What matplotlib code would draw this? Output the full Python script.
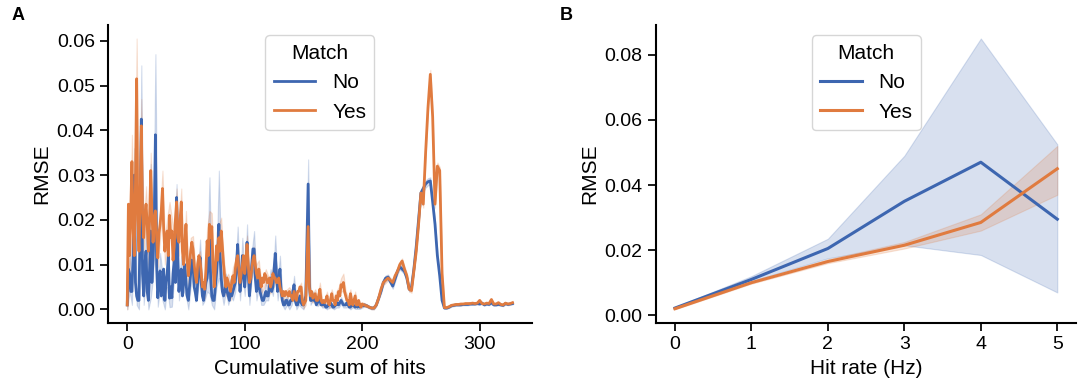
import numpy as np
import matplotlib
matplotlib.use("Agg")
import matplotlib.pyplot as plt

plt.rcParams["font.family"] = ["Liberation Sans", "DejaVu Sans"]

# ── Panel A: RMSE vs cumulative sum of hits ─────────────────────────────────
# every hit up to 209, then every second hit
hits = np.concatenate([np.arange(0, 210), np.arange(210, 330, 2)])

rmse_no = [
    # 0-49
    0.001, 0.009, 0.008, 0.004, 0.004, 0.012, 0.030, 0.006, 0.003, 0.002,
    0.002, 0.020, 0.0425, 0.008, 0.003, 0.010, 0.013, 0.004, 0.002, 0.009,
    0.0175, 0.006, 0.011, 0.020, 0.039, 0.010, 0.0026, 0.006, 0.0086, 0.003,
    0.005, 0.009, 0.002, 0.006, 0.008, 0.012, 0.0025, 0.005, 0.0026, 0.008,
    0.011, 0.006, 0.025, 0.012, 0.004, 0.007, 0.009, 0.003, 0.006, 0.010,
    # 50-99
    0.006, 0.003, 0.002, 0.005, 0.008, 0.011, 0.0104, 0.005, 0.0037, 0.002,
    0.006, 0.009, 0.0116, 0.006, 0.003, 0.002, 0.004, 0.006, 0.007, 0.010,
    0.0165, 0.007, 0.003, 0.002, 0.002, 0.005, 0.008, 0.012, 0.019, 0.012,
    0.007, 0.004, 0.003, 0.004, 0.006, 0.004, 0.003, 0.002, 0.005, 0.003,
    0.004, 0.005, 0.006, 0.010, 0.0145, 0.008, 0.004, 0.007, 0.012, 0.008,
    # 100-149
    0.005, 0.009, 0.015, 0.008, 0.003, 0.006, 0.010, 0.0135, 0.0135, 0.007,
    0.004, 0.005, 0.007, 0.004, 0.003, 0.002, 0.002, 0.003, 0.004, 0.003,
    0.003, 0.005, 0.007, 0.004, 0.005, 0.009, 0.0125, 0.008, 0.004, 0.006,
    0.009, 0.004, 0.002, 0.001, 0.001, 0.002, 0.002, 0.001, 0.001, 0.002,
    0.002, 0.004, 0.0055, 0.002, 0.001, 0.001, 0.002, 0.003, 0.0015, 0.001,
    # 150-209
    0.001, 0.002, 0.003, 0.015, 0.028, 0.006, 0.002, 0.002, 0.003, 0.002,
    0.002, 0.001, 0.0015, 0.002, 0.002, 0.001, 0.001, 0.0015, 0.001, 0.0005,
    0.0005, 0.001, 0.001, 0.0015, 0.001, 0.0005, 0.0005, 0.001, 0.001, 0.0015,
    0.001, 0.0015, 0.002, 0.0015, 0.001, 0.001, 0.001, 0.0015, 0.001, 0.0005,
    0.0005, 0.001, 0.001, 0.0008, 0.0005, 0.0008, 0.0005, 0.0008, 0.0005, 0.001,
    0.0008, 0.0008, 0.001, 0.0008, 0.0008, 0.0006, 0.0005, 0.0004, 0.0003, 0.0003,
    # 210-328, step 2
    0.0003, 0.001, 0.0025, 0.004, 0.006,
    0.007, 0.0072, 0.0062, 0.0052, 0.0068, 0.0085, 0.0095, 0.009, 0.0085, 0.007,
    0.0045, 0.005, 0.009, 0.014, 0.020, 0.026, 0.027, 0.028, 0.0285, 0.0287,
    0.024, 0.019, 0.012, 0.0075, 0.002,
    0.0003, 0.0003, 0.0005, 0.0008, 0.0009, 0.001, 0.001, 0.001, 0.0011, 0.0011,
    0.0011, 0.0012, 0.0012, 0.0012, 0.0013, 0.0012, 0.0014, 0.0010, 0.0012, 0.0011,
    0.0015, 0.0010, 0.0010, 0.0011, 0.0010, 0.0009, 0.0013, 0.0011, 0.0012, 0.0013,
]

rmse_yes = [
    # 0-49
    0.001, 0.0235, 0.012, 0.022, 0.033, 0.018, 0.012, 0.028, 0.0515, 0.020,
    0.013, 0.025, 0.041, 0.022, 0.016, 0.021, 0.0235, 0.019, 0.013, 0.020,
    0.031, 0.022, 0.015, 0.020, 0.022, 0.016, 0.0115, 0.017, 0.019, 0.022,
    0.027, 0.018, 0.013, 0.016, 0.0175, 0.012, 0.021, 0.016, 0.0175, 0.011,
    0.014, 0.020, 0.024, 0.016, 0.015, 0.020, 0.024, 0.013, 0.010, 0.015,
    # 50-99
    0.019, 0.011, 0.0075, 0.010, 0.013, 0.015, 0.0134, 0.010, 0.0075, 0.006,
    0.010, 0.012, 0.011, 0.008, 0.005, 0.006, 0.0045, 0.009, 0.0153, 0.012,
    0.019, 0.016, 0.0185, 0.010, 0.005, 0.009, 0.0142, 0.011, 0.016, 0.013,
    0.0175, 0.014, 0.010, 0.007, 0.005, 0.007, 0.006, 0.005, 0.004, 0.006,
    0.0075, 0.006, 0.009, 0.011, 0.012, 0.009, 0.006, 0.008, 0.010, 0.012,
    # 100-149
    0.008, 0.011, 0.0145, 0.010, 0.006, 0.007, 0.009, 0.011, 0.012, 0.010,
    0.008, 0.007, 0.009, 0.007, 0.005, 0.007, 0.006, 0.008, 0.0075, 0.006,
    0.006, 0.007, 0.005, 0.006, 0.008, 0.007, 0.007, 0.006, 0.006, 0.007,
    0.005, 0.004, 0.003, 0.004, 0.003, 0.004, 0.0035, 0.003, 0.004, 0.003,
    0.003, 0.002, 0.004, 0.003, 0.002, 0.004, 0.004, 0.005, 0.005, 0.002,
    # 150-209
    0.001, 0.0015, 0.002, 0.010, 0.0185, 0.005, 0.003, 0.004, 0.0025, 0.003,
    0.0035, 0.002, 0.002, 0.003, 0.0045, 0.002, 0.0015, 0.002, 0.0015, 0.002,
    0.003, 0.0015, 0.001, 0.002, 0.0035, 0.002, 0.002, 0.001, 0.003, 0.002,
    0.004, 0.003, 0.0055, 0.005, 0.006, 0.004, 0.003, 0.002, 0.002, 0.001,
    0.0035, 0.002, 0.001, 0.002, 0.003, 0.001, 0.001, 0.002, 0.001, 0.0005,
    0.0012, 0.001, 0.001, 0.0008, 0.0008, 0.0006, 0.0005, 0.0004, 0.0003, 0.0003,
    # 210-328, step 2
    0.0003, 0.001, 0.0025, 0.0045, 0.006,
    0.0065, 0.007, 0.0065, 0.006, 0.0075, 0.0085, 0.010, 0.0108, 0.009, 0.0075,
    0.0045, 0.0042, 0.0085, 0.013, 0.019, 0.026, 0.0235, 0.035, 0.045, 0.0525,
    0.043, 0.0235, 0.032, 0.031, 0.008,
    0.0004, 0.0004, 0.0006, 0.0009, 0.0010, 0.0011, 0.0011, 0.0012, 0.0012, 0.0013,
    0.0013, 0.0013, 0.0014, 0.0013, 0.0014, 0.0020, 0.0013, 0.0012, 0.0014, 0.0013,
    0.0022, 0.0012, 0.0012, 0.0015, 0.0011, 0.0010, 0.0014, 0.0012, 0.0013, 0.0015,
]

# half-width of the 95% CI band, read at every second hit (0, 2, ..., 328)
ci_hits = np.arange(0, 330, 2)
ci_no = [
    0.001, 0.004, 0.003, 0.006, 0.002, 0.002, 0.012, 0.002, 0.005, 0.002,
    0.015, 0.004, 0.018, 0.002, 0.004, 0.003, 0.002, 0.003, 0.002, 0.002,
    0.004, 0.003, 0.002, 0.003, 0.002, 0.003, 0.002, 0.003, 0.003, 0.002,
    0.002, 0.004, 0.002, 0.002, 0.003, 0.013, 0.002, 0.002, 0.003, 0.012,
    0.003, 0.002, 0.002, 0.002, 0.002, 0.002, 0.002, 0.004, 0.002, 0.004,
    0.002, 0.004, 0.002, 0.003, 0.004, 0.002, 0.002, 0.002, 0.001, 0.002,
    0.001, 0.002, 0.002, 0.004, 0.002, 0.003, 0.001, 0.001, 0.001, 0.001,
    0.001, 0.002, 0.001, 0.001, 0.001, 0.001, 0.001, 0.0055, 0.001, 0.001,
    0.0008, 0.0008, 0.0008, 0.0006, 0.0006, 0.0005, 0.0006, 0.0006, 0.0005, 0.0006,
    0.0006, 0.0008, 0.0006, 0.0006, 0.0005, 0.0005, 0.0005, 0.0004, 0.0004, 0.0004,
    0.0004, 0.0004, 0.0003, 0.0003, 0.0003, 0.0003, 0.0003, 0.0004, 0.0005, 0.0006,
    0.0006, 0.0006, 0.0006, 0.0006, 0.0006, 0.0006, 0.0006, 0.0006, 0.0006, 0.0006,
    0.0005, 0.0005, 0.0006, 0.0008, 0.0008, 0.0008, 0.0008, 0.0008, 0.0008, 0.0008,
    0.0008, 0.0008, 0.0008, 0.0006, 0.0004,
    0.0002, 0.0002, 0.0002, 0.0002, 0.0002, 0.0002, 0.0002, 0.0002, 0.0002, 0.0002,
    0.0002, 0.0002, 0.0002, 0.0002, 0.0002, 0.0002, 0.0002, 0.0002, 0.0002, 0.0002,
    0.0003, 0.0002, 0.0002, 0.0002, 0.0002, 0.0002, 0.0002, 0.0002, 0.0002, 0.0002,
]
ci_yes = [
    0.001, 0.004, 0.006, 0.003, 0.009, 0.003, 0.006, 0.003, 0.004, 0.003,
    0.004, 0.003, 0.004, 0.002, 0.003, 0.004, 0.003, 0.003, 0.003, 0.003,
    0.003, 0.003, 0.003, 0.003, 0.002, 0.003, 0.002, 0.003, 0.003, 0.002,
    0.002, 0.002, 0.002, 0.002, 0.003, 0.003, 0.003, 0.002, 0.003, 0.003,
    0.003, 0.002, 0.002, 0.002, 0.002, 0.002, 0.002, 0.002, 0.002, 0.002,
    0.002, 0.002, 0.002, 0.002, 0.002, 0.002, 0.002, 0.0015, 0.0015, 0.0015,
    0.0015, 0.0015, 0.0015, 0.0015, 0.0015, 0.0012, 0.001, 0.001, 0.001, 0.001,
    0.001, 0.001, 0.001, 0.001, 0.001, 0.0008, 0.001, 0.002, 0.001, 0.001,
    0.001, 0.001, 0.0015, 0.0008, 0.0008, 0.001, 0.0008, 0.001, 0.0008, 0.001,
    0.001, 0.0015, 0.002, 0.001, 0.0008, 0.001, 0.0006, 0.001, 0.0006, 0.0004,
    0.0004, 0.0004, 0.0003, 0.0003, 0.0003, 0.0003, 0.0003, 0.0004, 0.0005, 0.0006,
    0.0006, 0.0006, 0.0006, 0.0006, 0.0006, 0.0006, 0.0006, 0.0006, 0.0006, 0.0006,
    0.0005, 0.0005, 0.0006, 0.0008, 0.0008, 0.0008, 0.0008, 0.0008, 0.0008, 0.001,
    0.0008, 0.0008, 0.0008, 0.0008, 0.0006,
    0.0002, 0.0002, 0.0002, 0.0002, 0.0002, 0.0002, 0.0002, 0.0002, 0.0002, 0.0002,
    0.0002, 0.0002, 0.0002, 0.0002, 0.0002, 0.0003, 0.0002, 0.0002, 0.0002, 0.0002,
    0.0003, 0.0002, 0.0002, 0.0002, 0.0002, 0.0002, 0.0002, 0.0002, 0.0002, 0.0002,
]

# ── Panel B: RMSE vs hit rate ───────────────────────────────────────────────
rate = [0, 1, 2, 3, 4, 5]
rate_no = [0.0022, 0.011, 0.0205, 0.035, 0.047, 0.0295]
rate_no_lo = [0.0020, 0.0105, 0.0175, 0.0215, 0.0185, 0.007]
rate_no_hi = [0.0025, 0.012, 0.0235, 0.049, 0.085, 0.0525]
rate_yes = [0.0020, 0.0100, 0.0165, 0.0215, 0.0285, 0.045]
rate_yes_lo = [0.0018, 0.0097, 0.0160, 0.0205, 0.0260, 0.037]
rate_yes_hi = [0.0022, 0.0103, 0.0172, 0.0225, 0.0310, 0.052]

BLUE = "#3d66b0"
ORANGE = "#e07b3f"
FS_TICK = 14
FS_LABEL = 15

fig = plt.figure(figsize=(10.84, 3.90), dpi=100)
ax_a = fig.add_axes([0.0996, 0.172, 0.391, 0.764])
ax_b = fig.add_axes([0.605, 0.172, 0.388, 0.764])


def band(ax, x, lo, hi, color):
    ax.fill_between(x, lo, hi, color=color, alpha=0.2, linewidth=0.8)


no = np.array(rmse_no)
yes = np.array(rmse_yes)
on_ci = np.isin(hits, ci_hits)
for series, ci, color in ((no, ci_no, BLUE), (yes, ci_yes, ORANGE)):
    centre = series[on_ci]
    band(ax_a, ci_hits, centre - np.array(ci), centre + np.array(ci), color)
ax_a.plot(hits, no, color=BLUE, lw=2.0, label="No")
ax_a.plot(hits, yes, color=ORANGE, lw=2.0, label="Yes")

band(ax_b, rate, rate_no_lo, rate_no_hi, BLUE)
band(ax_b, rate, rate_yes_lo, rate_yes_hi, ORANGE)
ax_b.plot(rate, rate_no, color=BLUE, lw=2.2, label="No")
ax_b.plot(rate, rate_yes, color=ORANGE, lw=2.2, label="Yes")

ax_a.set_xticks([0, 100, 200, 300])
ax_a.set_yticks(np.arange(0, 0.061, 0.01))
ax_a.set_xlabel("Cumulative sum of hits", fontsize=FS_LABEL)
ax_b.set_xticks(rate)
ax_b.set_yticks(np.arange(0, 0.081, 0.02))
ax_b.set_xlabel("Hit rate (Hz)", fontsize=FS_LABEL)

for ax in (ax_a, ax_b):
    ax.margins(x=0.05, y=0.05)
    ax.yaxis.set_major_formatter(matplotlib.ticker.FormatStrFormatter("%.2f"))
    ax.set_ylabel("RMSE", fontsize=FS_LABEL)
    ax.tick_params(labelsize=FS_TICK, length=6, width=1.25, color="black")
    for side in ("top", "right"):
        ax.spines[side].set_visible(False)
    for side in ("left", "bottom"):
        ax.spines[side].set_linewidth(1.5)
    leg = ax.legend(title="Match", loc="upper center", fontsize=FS_LABEL,
                    title_fontsize=FS_LABEL, frameon=True, handlelength=2.0)
    leg.get_frame().set_edgecolor("#cccccc")

fig.text(0.011, 0.982, "A", fontsize=13, fontweight="bold", va="top")
fig.text(0.516, 0.982, "B", fontsize=13, fontweight="bold", va="top")

fig.savefig("out.png", dpi=100)
